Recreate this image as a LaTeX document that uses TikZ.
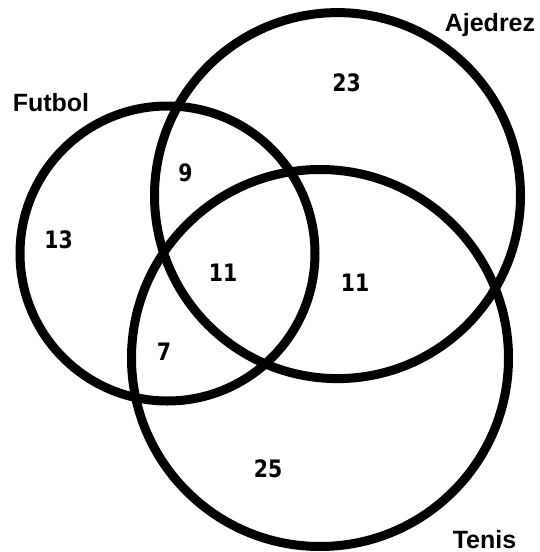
\documentclass[tikz,border=0pt]{standalone}
\usepackage{fontspec}
\setmainfont{Liberation Sans}
\newfontfamily\numfont[FakeStretch=0.85]{DejaVu Sans}
\begin{document}
\begin{tikzpicture}[x=1pt,y=-1pt,
  setline/.style={line width=9pt, black},
  setname/.style={inner sep=0pt, anchor=base, font=\fontsize{25}{30}\selectfont\bfseries},
  count/.style={inner sep=0pt, font=\fontsize{24}{28}\selectfont\numfont\bfseries}]
  \useasboundingbox (0,0) rectangle (540,552);
  % set centres
  \coordinate (cF) at (167.5,253.5);
  \coordinate (cA) at (337.5,195.6);
  \coordinate (cT) at (320,358);
  % the three sets
  \draw[setline] (cF) circle (147.5);
  \draw[setline] (cA) circle (183);
  \draw[setline] (cT) circle (188.5);
  % set names
  \node[setname] (lF) at (51,111) {Futbol};
  \node[setname] (lA) at (490,31.5) {Ajedrez};
  \node[setname] (lT) at (484.5,548) {Tenis};
  % region counts
  \node[count] (nA)   at (346.5,82.4) {23};
  \node[count] (nFA)  at (185.5,172.5) {9};
  \node[count] (nF)   at (58.5,240) {13};
  \node[count] (nFAT) at (223,273) {11};
  \node[count] (nAT)  at (355,283) {11};
  \node[count] (nFT)  at (164,352) {7};
  \node[count] (nT)   at (268,469) {25};
\end{tikzpicture}
\end{document}
